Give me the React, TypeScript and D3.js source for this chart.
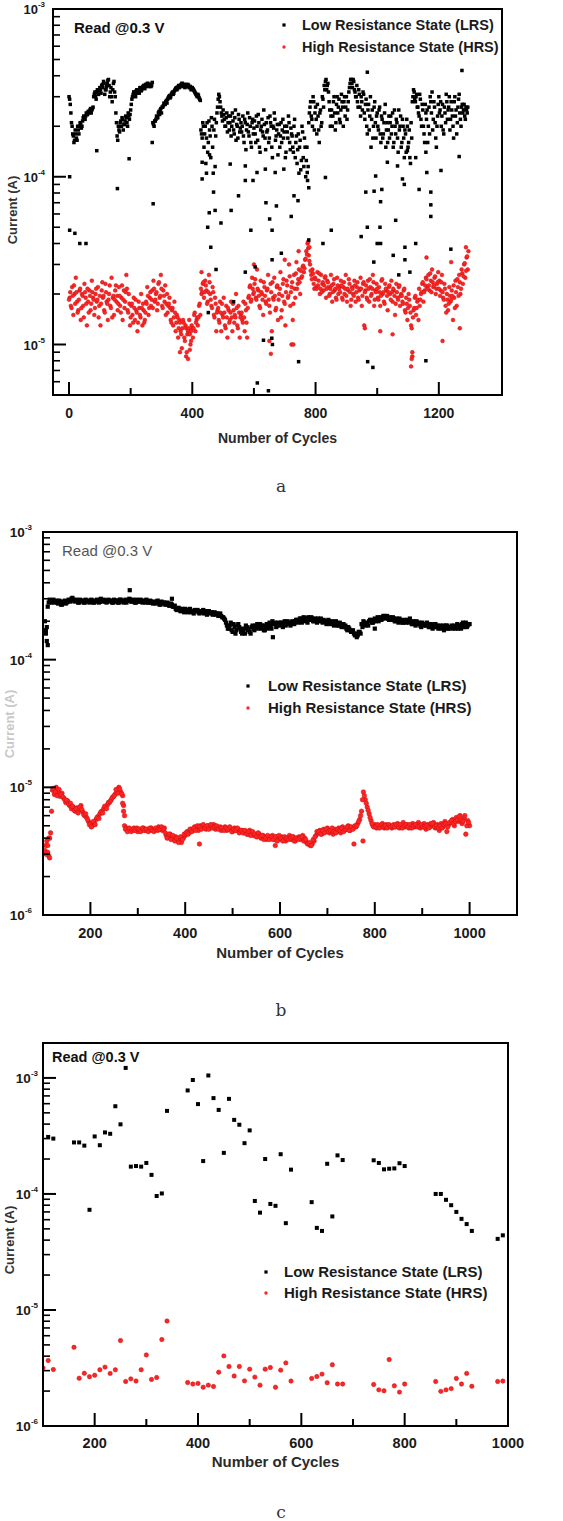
import React from 'react';
import * as d3 from 'd3';

// ---------- Panel a: 0–1300 cycles (current in µA) ----------
// Two interleaved read sets per state: one at cycles 4i, one at cycles 4i + 2.
const A_STEP = 4;
const LRS_A_UA = [
  300, 270, 210, 180, 160, 190, 170, 200, 180, 210,
  195, 215, 230, 220, 240, 235, 245, 250, 240, 255,
  300, 320, 290, 330, 310, 340, 315, 355, 370, 310,
  330, 360, 380, 300, 340, 280, 360, 320, 240, 175,
  200, 185, 215, 225, 190, 205, 230, 210, 240, 220,
  250, 290, 310, 320, 300, 330, 320, 315, 335, 330,
  345, 340, 355, 350, 360, 345, 355, 350, 210, 200,
  215, 230, 225, 245, 250, 240, 260, 275, 270, 285,
  290, 300, 295, 310, 320, 315, 330, 340, 335, 350,
  345, 355, 360, 350, 340, 355, 345, 350, 340, 330,
  340, 330, 320, 310, 300, 305, 290, 190, 170, 200,
  180, 120, 210, 160, 190, 130, 200, 105, 220, 175,
  240, 290, 300, 260, 230, 250, 220, 200, 240, 210,
  190, 230, 200, 215, 180, 250, 205, 170, 220, 195,
  185, 230, 160, 210, 190, 240, 175, 200, 150, 220,
  195, 180, 230, 165, 210, 140, 200, 185, 250, 170,
  210, 190, 160, 230, 200, 130, 195, 220, 175, 205,
  180, 150, 210, 190, 170, 200, 140, 185, 230, 160,
  195, 175, 140, 220, 160, 120, 180, 150, 110, 200,
  130, 170, 100, 150, 115, 240, 280, 220, 300, 190,
  260, 180, 230, 160, 250, 210, 290, 350, 370, 330,
  360, 280, 200, 250, 230, 300, 190, 270, 240, 290,
  210, 310, 260, 280, 230, 300, 250, 320, 360, 380,
  340, 370, 320, 300, 280, 330, 260, 300, 250, 310,
  220, 290, 180, 270, 230, 150, 250, 200, 280, 170,
  240, 190, 260, 160, 220, 180, 240, 150, 210, 190,
  170, 230, 200, 150, 250, 180, 210, 140, 190, 230,
  160, 200, 130, 180, 220, 150, 190, 120, 170, 300,
  320, 280, 310, 260, 230, 290, 200, 250, 180, 270,
  220, 160, 260, 300, 240, 190, 280, 210, 150, 230,
  300, 250, 200, 270, 180, 240, 310, 220, 260, 190,
  280, 230, 170, 300, 250, 210, 290, 240, 200, 270,
  250, 230, 260, 240,
];
const LRS_A2_UA = [
  290, 240, 200, 175, 165, 180, 165, 190, 200, 205,
  200, 225, 220, 230, 235, 245, 240, 255, 250, 260,
  310, 300, 320, 310, 325, 330, 350, 340, 360, 330,
  345, 375, 350, 320, 300, 330, 370, 300, 210, 165,
  190, 210, 200, 220, 205, 215, 225, 200, 230, 235,
  270, 300, 320, 310, 325, 315, 330, 340, 325, 340,
  350, 335, 345, 360, 350, 355, 345, 365, 205, 215,
  220, 225, 240, 235, 255, 260, 265, 270, 280, 275,
  295, 305, 300, 315, 310, 325, 335, 330, 345, 340,
  350, 360, 345, 355, 350, 345, 355, 340, 345, 335,
  335, 325, 315, 305, 310, 295, 285, 180, 210, 150,
  200, 170, 140, 215, 175, 225, 150, 190, 115, 210,
  260, 310, 280, 240, 215, 235, 200, 225, 185, 230,
  210, 175, 240, 190, 225, 165, 200, 235, 185, 210,
  200, 175, 220, 145, 205, 185, 225, 160, 210, 180,
  215, 160, 200, 235, 150, 190, 220, 175, 205, 145,
  185, 225, 170, 210, 150, 200, 240, 165, 190, 135,
  205, 175, 160, 220, 185, 130, 200, 170, 210, 145,
  180, 150, 200, 130, 175, 145, 105, 165, 125, 185,
  115, 150, 125, 95, 210, 260, 230, 200, 280, 240,
  220, 270, 190, 240, 200, 300, 260, 330, 380, 350,
  320, 250, 230, 200, 280, 240, 210, 300, 260, 220,
  250, 280, 200, 300, 260, 220, 280, 340, 380, 360,
  380, 330, 300, 350, 260, 310, 230, 280, 320, 240,
  270, 200, 250, 190, 300, 220, 170, 260, 210, 230,
  200, 250, 180, 230, 170, 210, 270, 190, 160, 230,
  210, 180, 240, 160, 200, 220, 170, 250, 200, 150,
  220, 170, 190, 140, 200, 160, 130, 210, 280, 330,
  290, 300, 260, 240, 310, 220, 270, 200, 160, 240,
  250, 200, 180, 280, 320, 220, 260, 170, 200, 270,
  240, 280, 230, 190, 260, 210, 280, 250, 300, 220,
  250, 200, 280, 230, 180, 260, 310, 220, 260, 240,
  270, 220, 250, 260,
];

// Scattered LRS reads away from the main band: [cycle, µA]
const LRS_A_EXTRA: [number, number][] = [
  [2, 100], [2, 48], [19, 46], [35, 40], [55, 40], [90, 143], [157, 85], [195, 128], [270, 160], [273, 69],
  [432, 122], [432, 97], [446, 105], [450, 50], [452, 15.5], [455, 61], [456, 135], [460, 38], [469, 81], [474, 63],
  [477, 28], [493, 53], [523, 119], [526, 63], [534, 18], [550, 77], [572, 116], [572, 95], [572, 27], [590, 48],
  [597, 95], [604, 29], [610, 106], [611, 5.9], [631, 10.6], [637, 111], [639, 70], [647, 5.3], [651, 56], [658, 10.9],
  [659, 48], [659, 32], [660, 10], [669, 106], [673, 67], [689, 35], [697, 111], [721, 58], [730, 77], [743, 72],
  [745, 7.9], [773, 106], [778, 86], [778, 42], [824, 40], [832, 99], [851, 48], [948, 44], [963, 81], [968, 50],
  [968, 420], [969, 7.9], [986, 7.3], [989, 31], [990, 82], [995, 101], [1000, 40], [1009, 50], [1011, 40], [1011, 71],
  [1015, 84], [1033, 122], [1052, 34], [1060, 55], [1066, 116], [1070, 26], [1082, 97], [1088, 90], [1090, 38], [1090, 32],
  [1098, 143], [1106, 27], [1125, 130], [1125, 40], [1136, 84], [1158, 140], [1158, 8], [1161, 106], [1174, 68], [1174, 58],
  [1174, 81], [1207, 109], [1239, 37], [1266, 132], [1275, 430],
];

const HRS_A_UA = [
  19, 17, 22, 15, 20, 25, 18, 16, 21, 14,
  20, 17, 23, 19, 13, 18, 21, 16, 24, 19,
  15, 20, 18, 22, 17, 13, 21, 19, 16, 23,
  18, 14, 20, 17, 25, 19, 15, 21, 18, 16,
  22, 17, 19, 14, 21, 18, 26, 16, 20, 13,
  17, 15, 19, 14, 16, 12, 18, 15, 20, 13,
  16, 14, 18, 22, 15, 19, 17, 21, 24, 18,
  20, 16, 23, 19, 26, 17, 21, 18, 15, 20,
  17, 19, 14, 16, 13, 18, 12, 15, 11, 14,
  12, 9.5, 14, 11, 13, 9, 12, 14, 10, 13,
  11, 15, 12, 14, 13, 17, 15, 20, 23, 19,
  24, 21, 18, 26, 20, 17, 22, 15, 19, 12,
  16, 14, 18, 12, 15, 19, 13, 17, 11, 16,
  14, 18, 12, 16, 15, 20, 13, 17, 11, 15,
  14, 18, 12, 16, 11, 19, 22, 18, 25, 20,
  23, 19, 28, 21, 17, 24, 20, 15, 22, 18,
  21, 26, 17, 23, 12, 19, 25, 16, 22, 14,
  20, 27, 16, 23, 18, 13, 24, 19, 30, 17,
  22, 14, 26, 19, 31, 23, 28, 20, 25, 29,
  27, 32, 36, 40, 34, 30, 26, 28, 23, 25,
  22, 27, 24, 20, 26, 23, 21, 25, 19, 24,
  22, 20, 26, 18, 23, 21, 19, 25, 20, 22,
  24, 19, 22, 20, 26, 18, 21, 23, 17, 22,
  20, 24, 18, 22, 19, 21, 25, 17, 23, 13,
  21, 19, 24, 18, 22, 20, 26, 17, 21, 23,
  19, 22, 17, 24, 20, 18, 23, 21, 16, 22,
  20, 24, 18, 21, 15, 23, 19, 22, 17, 20,
  18, 21, 16, 19, 14, 20, 17, 13, 8.5, 16,
  19, 15, 18, 14, 17, 20, 23, 18, 21, 25,
  22, 26, 21, 24, 28, 22, 25, 20, 23, 27,
  24, 21, 26, 19, 23, 17, 20, 16, 22, 18,
  21, 14, 19, 24, 17, 22, 26, 20, 28, 23,
  30, 25, 33, 28,
];
const HRS_A2_UA = [
  18.5, 20.5, 16.5, 19.5, 22.5, 17.5, 20.5, 15.5, 18.5, 21.5,
  16.5, 19.5, 14.5, 20.5, 17.5, 21.5, 15.5, 19.5, 17.5, 20.5,
  18.5, 16.5, 21.5, 18.5, 14.5, 19.5, 17.5, 23.5, 19.5, 15.5,
  20.5, 17.5, 18.5, 22.5, 16.5, 14.5, 19.5, 18.5, 22.5, 19.5,
  17.5, 19.5, 15.5, 22.5, 18.5, 16.5, 20.5, 21.5, 15.5, 17.5,
  14.5, 17.5, 13.5, 16.5, 18.5, 15.5, 13.5, 16.5, 14.5, 16.5,
  17.5, 13.5, 15.5, 17.5, 19.5, 16.5, 20.5, 18.5, 16.5, 21.5,
  18.5, 20.5, 17.5, 23.5, 19.5, 21.5, 16.5, 19.5, 22.5, 17.5,
  15.5, 17.5, 16.5, 13.5, 16.5, 14.5, 15.5, 13.5, 14.5, 12.5,
  13.5, 11.5, 12.5, 13.5, 10.5, 12.5, 11.5, 12.5, 11.5, 10.5,
  12.5, 12.5, 15.5, 13.5, 14.5, 14.5, 17.5, 21.5, 20.5, 23.5,
  20.5, 22.5, 17.5, 20.5, 23.5, 18.5, 16.5, 20.5, 14.5, 17.5,
  15.5, 16.5, 13.5, 15.5, 17.5, 14.5, 15.5, 12.5, 14.5, 16.5,
  13.5, 15.5, 14.5, 17.5, 13.5, 14.5, 16.5, 12.5, 15.5, 14.5,
  15.5, 13.5, 14.5, 17.5, 13.5, 16.5, 19.5, 22.5, 18.5, 21.5,
  20.5, 24.5, 18.5, 21.5, 19.5, 16.5, 20.5, 18.5, 23.5, 19.5,
  17.5, 21.5, 18.5, 15.5, 20.5, 23.5, 18.5, 19.5, 16.5, 22.5,
  18.5, 21.5, 14.5, 19.5, 24.5, 17.5, 20.5, 22.5, 19.5, 25.5,
  20.5, 23.5, 17.5, 21.5, 26.5, 21.5, 24.5, 23.5, 27.5, 25.5,
  29.5, 28.5, 32.5, 34.5, 37.5, 31.5, 27.5, 24.5, 26.5, 21.5,
  24.5, 21.5, 22.5, 26.5, 21.5, 20.5, 23.5, 22.5, 25.5, 21.5,
  23.5, 19.5, 21.5, 22.5, 20.5, 24.5, 21.5, 18.5, 22.5, 21.5,
  20.5, 22.5, 18.5, 23.5, 21.5, 19.5, 21.5, 24.5, 20.5, 18.5,
  21.5, 19.5, 22.5, 20.5, 23.5, 18.5, 21.5, 21.5, 19.5, 23.5,
  20.5, 22.5, 18.5, 21.5, 24.5, 19.5, 21.5, 23.5, 18.5, 20.5,
  21.5, 18.5, 20.5, 19.5, 24.5, 20.5, 17.5, 21.5, 19.5, 20.5,
  22.5, 18.5, 20.5, 21.5, 19.5, 17.5, 20.5, 18.5, 22.5, 19.5,
  19.5, 17.5, 21.5, 15.5, 17.5, 16.5, 18.5, 15.5, 12.5, 14.5,
  16.5, 19.5, 16.5, 18.5, 21.5, 18.5, 20.5, 23.5, 20.5, 22.5,
  24.5, 21.5, 22.5, 26.5, 20.5, 23.5, 22.5, 25.5, 21.5, 23.5,
  21.5, 19.5, 23.5, 20.5, 18.5, 21.5, 15.5, 18.5, 17.5, 19.5,
  18.5, 19.5, 22.5, 16.5, 20.5, 24.5, 19.5, 23.5, 21.5, 26.5,
  25.5, 30.5, 27.5, 33.5,
];

const HRS_A_EXTRA: [number, number][] = [
  [360, 9], [380, 8.5], [386, 8.2], [392, 9.3], [396, 12], [650, 10.5], [655, 8.8], [722, 10], [728, 10], [1110, 7.4],
  [1112, 8.2], [1114, 9], [1212, 10.5], [1268, 12.5], [1288, 38], [1296, 36], [776, 41], [780, 38], [430, 27], [700, 32],
  [745, 36], [1160, 33], [1240, 31], [600, 30], [1050, 11.5], [960, 12.5], [1010, 12],
];

// ---------- Panel b: 100–1000 cycles (µA) ----------
// First set read at cycles 104 + 4i, second set at cycles 106 + 4i.
const B_START = 104;
const B2_START = 106;
const B_STEP = 4;
const LRS_B_UA = [
  200, 140, 280, 290,
  285, 280, 290, 275, 285, 270, 280, 275, 285, 290,
  300, 295, 285, 290, 280, 285, 290, 280, 285, 290,
  285, 290, 280, 285, 290, 285, 290, 295, 285, 290,
  285, 290, 280, 285, 290, 280, 295, 290, 285, 280,
  290, 295, 285, 290, 280, 290, 285, 290, 285, 280,
  285, 280, 285, 275, 280, 285, 280, 270, 275, 280,
  270, 275, 265, 270, 260, 250, 245, 250, 240, 245,
  250, 245, 240, 235, 240, 245, 240, 235, 240, 235,
  230, 240, 235, 230, 235, 230, 225, 230, 225, 220,
  215, 205, 185, 175, 195, 165, 180, 170, 190, 175,
  160, 175, 185, 170, 165, 180, 175, 185, 190, 180,
  175, 185, 170, 190, 180, 185, 200, 190, 180, 195,
  185, 195, 190, 185, 200, 195, 190, 195, 200, 205,
  200, 210, 205, 200, 210, 215, 205, 210, 200, 205,
  210, 205, 200, 205, 200, 195, 200, 195, 190, 195,
  190, 185, 190, 185, 180, 175, 180, 170, 165, 160,
  160, 155, 165, 190, 200, 185, 195, 200, 205, 195,
  210, 205, 200, 215, 210, 220, 215, 210, 215, 205,
  210, 200, 205, 210, 200, 195, 200, 205, 195, 200,
  190, 195, 200, 190, 185, 195, 190, 185, 190, 180,
  185, 180, 190, 185, 180, 175, 185, 180, 185, 175,
  180, 175, 185, 180, 175, 185, 190, 180, 195, 185,
  190,
];
const LRS_B2_UA = [
  170, 260, 295, 280,
  295, 285, 280, 290, 270, 285, 290, 280, 295, 285,
  305, 290, 295, 280, 295, 290, 280, 295, 290, 280,
  295, 280, 290, 295, 280, 300, 285, 290, 280, 295,
  290, 280, 295, 290, 280, 295, 285, 280, 295, 290,
  300, 285, 295, 280, 295, 285, 295, 280, 290, 295,
  280, 290, 280, 285, 275, 290, 270, 285, 280, 270,
  280, 265, 275, 260, 265, 245, 255, 240, 250, 235,
  245, 235, 250, 240, 230, 240, 245, 230, 235, 245,
  240, 225, 240, 235, 225, 235, 230, 220, 230, 215,
  210, 195, 175, 185, 170, 190, 160, 185, 180, 165,
  170, 160, 180, 175, 160, 185, 170, 180, 175, 190,
  185, 170, 180, 175, 195, 175, 190, 195, 185, 190,
  195, 180, 200, 190, 195, 185, 200, 190, 205, 195,
  210, 195, 215, 210, 195, 205, 215, 200, 210, 195,
  200, 210, 195, 200, 190, 205, 190, 200, 185, 200,
  185, 195, 180, 190, 185, 170, 175, 165, 170, 155,
  150, 165, 160, 180, 195, 190, 185, 205, 195, 200,
  200, 215, 210, 205, 220, 210, 220, 205, 210, 215,
  200, 210, 195, 205, 195, 205, 195, 200, 210, 190,
  200, 185, 195, 195, 180, 190, 185, 195, 180, 190,
  175, 190, 180, 175, 185, 180, 170, 185, 175, 180,
  185, 180, 175, 190, 185, 175, 195, 185, 180, 190,
];
const LRS_B_EXTRA: [number, number][] = [
  [106, 160], [108, 180], [110, 130], [283, 350], [372, 300], [585, 150], [800, 175],
];

const HRS_B_UA = [
  3.2, 3.8, 2.9, 4.4,
  9.5, 8.8, 10.0, 9.2, 8.5, 9.0, 8.2, 7.6, 7.8, 7.2,
  6.8, 7.0, 6.5, 6.9, 6.6, 7.2, 6.4, 6.0, 5.8, 5.4,
  5.2, 5.0, 5.3, 5.6, 5.9, 6.2, 6.5, 6.8, 7.0, 7.3,
  7.6, 8.0, 8.4, 8.8, 9.3, 10.0, 9.2, 8.6, 5.0, 4.8,
  4.6, 4.7, 4.6, 4.8, 4.6, 4.5, 4.7, 4.6, 4.8, 4.6,
  4.7, 4.6, 4.8, 4.7, 4.6, 4.7, 4.9, 4.7, 4.6, 4.8,
  4.2, 4.1, 4.3, 4.0, 3.9, 4.1, 3.8, 3.9, 3.7, 4.0,
  4.2, 4.5, 4.4, 4.7, 4.6, 4.9, 4.8, 4.6, 5.0, 4.8,
  4.9, 4.7, 5.0, 4.8, 4.9, 5.1, 4.7, 4.9, 4.8, 4.6,
  4.7, 4.9, 4.6, 4.8, 4.7, 4.5, 4.8, 4.6, 4.7, 4.5,
  4.6, 4.4, 4.5, 4.3, 4.6, 4.4, 4.2, 4.3, 4.1, 4.3,
  4.0, 4.2, 4.1, 3.9, 4.1, 4.0, 4.2, 3.9, 4.1, 4.0,
  3.9, 4.1, 4.0, 3.8, 4.0, 4.2, 3.9, 4.1, 3.8, 4.0,
  4.1, 3.9, 4.2, 4.0, 3.7, 3.6, 3.5, 3.6, 3.8, 4.2,
  4.4, 4.6, 4.3, 4.7, 4.5, 4.8, 4.4, 4.6, 4.3, 4.7,
  4.5, 4.8, 4.4, 4.9, 4.6, 4.7, 5.0, 4.6, 4.8, 3.6,
  4.9, 5.2, 5.6, 6.5, 9.2, 8.0, 7.0, 6.2, 5.5, 5.0,
  5.1, 4.8, 5.0, 4.9, 5.2, 4.8, 5.1, 4.9, 5.0, 4.8,
  5.1, 4.9, 5.2, 4.8, 5.0, 5.3, 4.9, 5.1, 4.8, 5.0,
  5.2, 4.9, 5.1, 5.3, 4.8, 5.0, 5.2, 4.7, 5.1, 4.9,
  5.0, 5.3, 4.8, 5.1, 4.6, 5.2, 4.9, 5.4, 4.5, 5.1,
  5.3, 5.6, 5.0, 5.8, 5.4, 6.0, 5.2, 5.7, 4.3, 5.5,
  5.0,
];
const HRS_B2_UA = [
  3.5, 3.1, 4.0, 6.5,
  9.8, 9.2, 8.6, 9.6, 8.8, 8.4, 8.0, 7.9, 7.4, 7.5,
  7.1, 6.6, 6.8, 6.3, 7.0, 6.7, 6.1, 6.2, 5.6, 5.1,
  4.9, 5.4, 5.1, 5.8, 5.7, 6.4, 6.3, 7.1, 6.8, 7.6,
  7.8, 8.3, 8.6, 9.6, 9.0, 9.7, 8.9, 7.2, 4.7, 4.5,
  4.8, 4.5, 4.7, 4.6, 4.8, 4.7, 4.5, 4.8, 4.6, 4.7,
  4.5, 4.8, 4.6, 4.5, 4.8, 4.6, 4.7, 4.9, 4.7, 4.4,
  4.0, 4.3, 3.9, 4.2, 3.8, 4.0, 3.7, 4.1, 3.9, 4.3,
  4.4, 4.3, 4.7, 4.5, 4.8, 4.6, 5.0, 4.9, 4.7, 5.1,
  4.8, 5.0, 4.7, 5.1, 4.8, 4.9, 5.0, 4.7, 4.9, 4.8,
  4.6, 4.8, 4.7, 4.9, 4.5, 4.7, 4.6, 4.8, 4.4, 4.6,
  4.4, 4.6, 4.3, 4.5, 4.2, 4.5, 4.3, 4.1, 4.4, 4.1,
  4.2, 3.9, 4.0, 4.2, 3.9, 4.1, 3.9, 4.1, 3.8, 4.2,
  4.0, 3.8, 4.1, 4.0, 3.9, 4.0, 4.1, 3.8, 4.0, 3.9,
  4.0, 4.1, 3.8, 3.9, 3.6, 3.7, 3.5, 3.9, 4.1, 4.5,
  4.5, 4.3, 4.6, 4.4, 4.7, 4.5, 4.6, 4.8, 4.5, 4.4,
  4.7, 4.6, 4.8, 4.5, 4.7, 4.9, 4.6, 4.9, 4.7, 5.0,
  5.0, 5.4, 6.0, 8.0, 8.6, 7.5, 6.6, 5.8, 5.2, 4.9,
  4.9, 5.1, 4.8, 5.1, 4.9, 5.0, 4.8, 5.1, 4.9, 5.0,
  4.9, 5.1, 4.9, 5.1, 4.8, 5.0, 5.1, 4.9, 5.1, 4.8,
  5.0, 5.1, 4.9, 5.0, 5.1, 4.9, 4.9, 5.0, 4.8, 5.2,
  5.2, 4.9, 5.0, 4.8, 5.0, 4.8, 5.1, 5.2, 4.9, 5.3,
  5.5, 5.2, 5.4, 5.6, 5.9, 5.5, 5.4, 6.0, 5.0, 5.3,
];
const HRS_B_EXTRA: [number, number][] = [
  [106, 3.0], [110, 3.5], [112, 4.0], [114, 2.8], [268, 7.5], [270, 6.5], [272, 6.0], [430, 3.6], [590, 3.5], [775, 3.8],
];

// ---------- Panel c: reads every 10 cycles (µA) ----------
const C_LRS_CYCLES = [
  110, 120, 160, 170, 180, 190, 200, 210, 220, 230, 240, 250, 260, 270, 280, 290, 300, 310, 320, 330, 340,
  380, 390, 400, 410, 420, 430, 440, 450, 460, 470, 480, 490, 500, 510, 520, 530, 540, 550, 560, 570, 580,
  620, 630, 640, 650, 660, 670, 680, 740, 750, 760, 770, 780, 790, 800, 860, 870, 880, 890, 900, 910, 920, 930,
  980, 990,
];
const C_LRS_UA = [
  310, 300, 278, 278, 261, 73, 313, 263, 339, 330, 570, 398, 1220, 172, 174, 172, 185, 146, 96, 101, 520,
  780, 960, 595, 192, 1050, 670, 530, 226, 660, 435, 395, 274, 353, 87, 69, 200, 82, 79, 220, 56, 162,
  85, 51, 48, 182, 64, 215, 196, 195, 185, 163, 165, 166, 184, 174, 100, 100, 89, 80, 70, 61, 55, 48,
  41, 44,
];
const C_HRS_CYCLES = [100, ...C_LRS_CYCLES];
const C_HRS_UA = [
  3.17, 3.67, 3.07, 4.77, 2.58, 2.85, 2.66, 2.74, 3.05, 3.22, 2.84, 3.05, 5.45, 2.42, 2.55, 2.44, 3.05, 4.1, 2.52, 2.62, 5.56, 8.04,
  2.37, 2.3, 2.33, 2.16, 2.25, 2.19, 2.91, 4.02, 3.26, 2.7, 3.26, 2.45, 3.09, 2.64, 2.25, 3.09, 3.19, 2.16, 3.03, 3.5, 2.44,
  2.57, 2.67, 2.8, 2.36, 3.37, 2.3, 2.3, 2.28, 2.05, 2.01, 3.74, 2.22, 1.96, 2.3, 2.42, 1.99, 2.05, 2.1, 2.57, 2.3, 2.84, 2.2,
  2.42, 2.44,
];

// ---------- Axis ticks ----------
const A_X_MAJOR = [0, 400, 800, 1200];
const A_X_MINOR = [200, 600, 1000];
const BC_X_MAJOR = [200, 400, 600, 800, 1000];
const BC_X_MINOR = [300, 500, 700, 900];

const LRS_LABEL = 'Low Resistance State (LRS)';
const HRS_LABEL = 'High Resistance State (HRS)';
const READ_LABEL = 'Read @0.3 V';
const X_TITLE = 'Number of Cycles';
const Y_TITLE = 'Current (A)';

type Pt = [number, number];
const UA = 1e-6;

const stepSeries = (vals: number[], start: number, step: number): Pt[] =>
  vals.map((v, i) => [start + i * step, v * UA]);
const pairSeries = (cycles: number[], vals: number[]): Pt[] => cycles.map((c, i) => [c, vals[i] * UA]);
const extraSeries = (pts: [number, number][]): Pt[] => pts.map(([c, v]) => [c, v * UA]);

const SANS = '"Liberation Sans", Arial, Helvetica, sans-serif';
const RED = '#ff2424';
const RED_EDGE = '#c81010';

interface PanelSpec {
  id: string;
  left: number; right: number; top: number; bottom: number;
  xDomain: [number, number]; yDomain: [number, number];
  xMajor: number[]; xMinor: number[];
  lrs: Pt[]; hrs: Pt[];
  sq: number; dot: number;
  legendMarkerX: number; legendX: number; legendY1: number; legendY2: number; legendSize: number;
  readX: number; readY: number; readWeight: number | string; readColor: string; readSize: number;
  yTitleX: number; yTitleY: number; yTitleColor: string; yTitleSize: number;
  yLabelGap: number;
  tickSize: number; xTickY: number; xTitleY: number; titleSize: number;
  caption: string; captionY: number;
}

function Panel({ s }: { s: PanelSpec }) {
  const x = d3.scaleLinear().domain(s.xDomain).range([s.left, s.right]);
  const y = d3.scaleLog().domain(s.yDomain).range([s.bottom, s.top]);
  const [lo, hi] = s.yDomain;
  const eLo = Math.floor(Math.log10(lo));
  const eHi = Math.ceil(Math.log10(hi));
  const decades: number[] = [];
  const minors: number[] = [];
  for (let e = eLo; e <= eHi; e++) {
    const d = Math.pow(10, e);
    if (d >= lo * 0.9999 && d <= hi * 1.0001) decades.push(e);
    for (let k = 2; k <= 9; k++) {
      const v = k * d;
      if (v > lo * 1.001 && v < hi * 0.999) minors.push(v);
    }
  }
  const clipId = `clip-${s.id}`;
  const major = 13;
  const minor = 7;
  return (
    <g>
      <defs>
        <clipPath id={clipId}>
          <rect x={s.left} y={s.top} width={s.right - s.left} height={s.bottom - s.top} />
        </clipPath>
      </defs>
      <g clipPath={`url(#${clipId})`}>
        {s.hrs.map(([c, v], i) => (
          <circle key={`h${i}`} cx={x(c)} cy={y(v)} r={s.dot} fill={RED} stroke={RED_EDGE} strokeWidth={0.5} />
        ))}
        {s.lrs.map(([c, v], i) => (
          <rect key={`l${i}`} x={x(c) - s.sq / 2} y={y(v) - s.sq / 2} width={s.sq} height={s.sq} fill="#000" />
        ))}
      </g>
      {/* frame */}
      <rect x={s.left} y={s.top} width={s.right - s.left} height={s.bottom - s.top}
        fill="none" stroke="#000" strokeWidth={2} />
      {/* x ticks */}
      {s.xMajor.map((t) => (
        <line key={`xM${t}`} x1={x(t)} x2={x(t)} y1={s.bottom} y2={s.bottom - major} stroke="#000" strokeWidth={2} />
      ))}
      {s.xMinor.map((t) => (
        <line key={`xm${t}`} x1={x(t)} x2={x(t)} y1={s.bottom} y2={s.bottom - minor} stroke="#000" strokeWidth={2} />
      ))}
      {s.xMajor.map((t) => (
        <text key={`xl${t}`} x={x(t)} y={s.xTickY} textAnchor="middle" fontFamily={SANS}
          fontWeight="bold" fontSize={s.tickSize} fill="#1a1a1a">{t}</text>
      ))}
      {/* y ticks */}
      {decades.map((e) => (
        <line key={`yM${e}`} x1={s.left} x2={s.left + major} y1={y(Math.pow(10, e))} y2={y(Math.pow(10, e))}
          stroke="#000" strokeWidth={2} />
      ))}
      {minors.map((v, i) => (
        <line key={`ym${i}`} x1={s.left} x2={s.left + minor} y1={y(v)} y2={y(v)} stroke="#000" strokeWidth={1.6} />
      ))}
      {decades.map((e) => (
        <text key={`yl${e}`} x={s.left - s.yLabelGap} y={y(Math.pow(10, e)) + 5} textAnchor="end"
          fontFamily={SANS} fontWeight="bold" fontSize={s.tickSize - 1} fill="#1a1a1a">
          10<tspan fontSize={8} dy={-7}>{e}</tspan>
        </text>
      ))}
      {/* axis titles */}
      <text x={(s.left + s.right) / 2} y={s.xTitleY} textAnchor="middle" fontFamily={SANS}
        fontWeight="bold" fontSize={s.titleSize} fill="#2a2a2a">{X_TITLE}</text>
      <text transform={`translate(${s.yTitleX},${s.yTitleY}) rotate(-90)`} textAnchor="middle"
        fontFamily={SANS} fontWeight="bold" fontSize={s.yTitleSize} fill={s.yTitleColor}>{Y_TITLE}</text>
      {/* annotation */}
      <text x={s.readX} y={s.readY} fontFamily={SANS} fontWeight={s.readWeight} fontSize={s.readSize}
        fill={s.readColor}>{READ_LABEL}</text>
      {/* legend */}
      <rect x={s.legendMarkerX - 1.6} y={s.legendY1 - 6.6} width={3.2} height={3.2} fill="#000" />
      <text x={s.legendX} y={s.legendY1} fontFamily={SANS} fontWeight="bold" fontSize={s.legendSize}
        fill="#1a1a1a">{LRS_LABEL}</text>
      <circle cx={s.legendMarkerX} cy={s.legendY2 - 5} r={1.7} fill={RED} />
      <text x={s.legendX} y={s.legendY2} fontFamily={SANS} fontWeight="bold" fontSize={s.legendSize}
        fill="#1a1a1a">{HRS_LABEL}</text>
      {/* caption */}
      <text x={281} y={s.captionY} textAnchor="middle" fontFamily='"DejaVu Serif", "Liberation Serif", serif'
        fontSize={17} fill="#333">{s.caption}</text>
    </g>
  );
}

const PANELS: PanelSpec[] = [
  {
    id: 'a', left: 53, right: 502, top: 9, bottom: 395,
    xDomain: [-52, 1405], yDomain: [5e-6, 1e-3],
    xMajor: A_X_MAJOR, xMinor: A_X_MINOR,
    lrs: [
      ...stepSeries(LRS_A_UA, 0, A_STEP),
      ...stepSeries(LRS_A2_UA, 2, A_STEP),
      ...extraSeries(LRS_A_EXTRA),
    ],
    hrs: [
      ...stepSeries(HRS_A_UA, 2, A_STEP),
      ...stepSeries(HRS_A2_UA, 0, A_STEP),
      ...extraSeries(HRS_A_EXTRA),
    ],
    sq: 3.5, dot: 1.9,
    legendMarkerX: 284, legendX: 302, legendY1: 30, legendY2: 52, legendSize: 14.5,
    readX: 74, readY: 33, readWeight: 'bold', readColor: '#111', readSize: 15,
    yTitleX: 17, yTitleY: 210, yTitleColor: '#333', yTitleSize: 13, yLabelGap: 8,
    tickSize: 14, xTickY: 418, xTitleY: 443, titleSize: 14,
    caption: 'a', captionY: 492,
  },
  {
    id: 'b', left: 43, right: 517, top: 532, bottom: 915,
    xDomain: [100, 1100], yDomain: [1e-6, 1e-3],
    xMajor: BC_X_MAJOR, xMinor: BC_X_MINOR,
    lrs: [
      ...stepSeries(LRS_B_UA, B_START, B_STEP),
      ...stepSeries(LRS_B2_UA, B2_START, B_STEP),
      ...extraSeries(LRS_B_EXTRA),
    ],
    hrs: [
      ...stepSeries(HRS_B_UA, B_START, B_STEP),
      ...stepSeries(HRS_B2_UA, B2_START, B_STEP),
      ...extraSeries(HRS_B_EXTRA),
    ],
    sq: 4.2, dot: 2.3,
    legendMarkerX: 248, legendX: 268, legendY1: 691, legendY2: 713, legendSize: 15,
    readX: 62, readY: 556, readWeight: 'normal', readColor: '#555', readSize: 15,
    yTitleX: 14, yTitleY: 724, yTitleColor: '#c8c8c8', yTitleSize: 13, yLabelGap: 11,
    tickSize: 14.5, xTickY: 938, xTitleY: 958, titleSize: 15,
    caption: 'b', captionY: 1016,
  },
  {
    id: 'c', left: 43, right: 508, top: 1043, bottom: 1426,
    xDomain: [100, 1000], yDomain: [1e-6, 2e-3],
    xMajor: BC_X_MAJOR, xMinor: BC_X_MINOR,
    lrs: pairSeries(C_LRS_CYCLES, C_LRS_UA),
    hrs: pairSeries(C_HRS_CYCLES, C_HRS_UA),
    sq: 4, dot: 2.2,
    legendMarkerX: 266, legendX: 284, legendY1: 1277, legendY2: 1298, legendSize: 15,
    readX: 52, readY: 1062, readWeight: 'bold', readColor: '#111', readSize: 14.5,
    yTitleX: 14, yTitleY: 1240, yTitleColor: '#333', yTitleSize: 13, yLabelGap: 5,
    tickSize: 14.5, xTickY: 1448, xTitleY: 1467, titleSize: 15,
    caption: 'c', captionY: 1518,
  },
];

export default function App() {
  return (
    <svg width={563} height={1521} viewBox="0 0 563 1521"
      style={{ position: 'absolute', left: 0, top: 0, background: '#fff', overflow: 'hidden' }}>
      <rect width={563} height={1521} fill="#fff" />
      {PANELS.map((p) => <Panel key={p.id} s={p} />)}
    </svg>
  );
}
